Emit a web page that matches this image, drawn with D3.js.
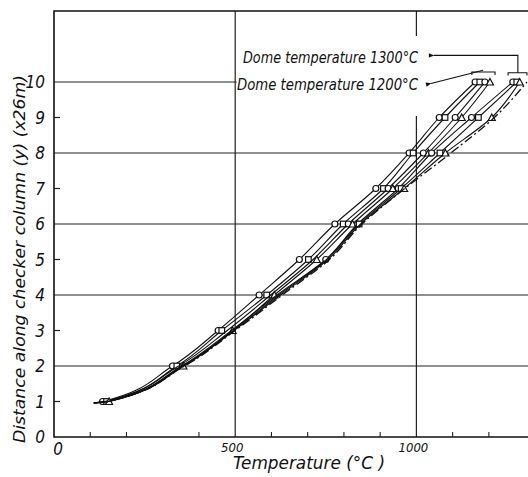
<!DOCTYPE html>
<html>
<head>
<meta charset="utf-8">
<script src="https://cdn.jsdelivr.net/npm/d3@7"></script>
<style>
  body { margin: 0; background: #fff; }
  text { font-family: "Liberation Sans Narrow", "DejaVu Sans Condensed", "Liberation Sans", sans-serif; font-style: italic; fill: #111; }
</style>
</head>
<body>
<svg id="chart"></svg>
<script>
// heights along the checker column (first entry = start of the curves)
let levels = [0.96, 1, 2, 3, 4, 5, 6, 7, 8, 9, 10]

// temperatures (°C) for each curve
let curveA = [110, 134, 327, 453, 566, 677, 775, 888, 980, 1063, 1162]
let curveB = [110, 145, 339, 463, 587, 702, 798, 909, 991, 1079, 1175]
let curveC = [110, 140, 344, 478, 598, 715, 812, 922, 1019, 1107, 1189]
let curveD = [110, 152, 357, 493, 608, 725, 824, 935, 1033, 1125, 1203]
let curveE = [110, 148, 352, 490, 615, 750, 838, 950, 1042, 1152, 1266]
let curveF = [110, 150, 355, 495, 620, 752, 842, 958, 1065, 1171, 1277]
let curveG = [110, 152, 358, 497, 625, 756, 846, 966, 1080, 1208, 1285]
let curveH = [110, 150, 360, 500, 630, 760, 850, 968, 1095, 1215, 1305]

let curves = [curveA, curveB, curveC, curveD, curveE, curveF, curveG, curveH]
let markerType = ["circle", "square", "circle", "triangle", "circle", "square", "triangle", "none"]
let markFrom = [1, 1, 6, 1, 5, 6, 7, 99]
let dashed = [false, false, false, false, false, false, false, true]

let xTicks = [0, 500, 1000]
let xMinor = [100, 200, 400, 600, 700, 800, 900, 1100, 1200]
let yTicks = [0, 1, 2, 3, 4, 5, 6, 7, 8, 9, 10]
let xGrid = [500, 1000]
let yGrid = [2, 4, 6, 8, 10]

let width = 528
let height = 477

let svg = d3.select("#chart")
    .attr("width", width)
    .attr("height", height)

let xScale = d3.scaleLinear().domain([0, 1500]).range([54, 54 + 1500 * 0.3624])
let yScale = d3.scaleLinear().domain([0, 12]).range([437, 11])

// grid
svg.selectAll(".vgrid")
    .data(xGrid)
    .enter()
    .append("line")
    .attr("x1", (d) => xScale(d))
    .attr("x2", (d) => xScale(d))
    .attr("y1", yScale(12))
    .attr("y2", yScale(0))
    .attr("stroke", "#222")
    .attr("stroke-width", 1.2)

svg.selectAll(".hgrid")
    .data(yGrid)
    .enter()
    .append("line")
    .attr("x1", xScale(0))
    .attr("x2", width)
    .attr("y1", (d) => yScale(d))
    .attr("y2", (d) => yScale(d))
    .attr("stroke", "#222")
    .attr("stroke-width", 1.2)

// blank area behind the annotations
svg.append("rect")
    .attr("x", xScale(500) + 1.5)
    .attr("y", 36)
    .attr("width", width)
    .attr("height", 80)
    .attr("fill", "#fff")

// frame
svg.append("path")
    .attr("d", `M${width},${yScale(12)}H${xScale(0)}V${yScale(0)}H${width}`)
    .attr("fill", "none")
    .attr("stroke", "#111")
    .attr("stroke-width", 1.6)

// minor ticks
svg.selectAll(".ytick")
    .data(yTicks.filter((d) => d % 2 === 1))
    .enter()
    .append("line")
    .attr("x1", xScale(0))
    .attr("x2", xScale(0) + 6)
    .attr("y1", (d) => yScale(d))
    .attr("y2", (d) => yScale(d))
    .attr("stroke", "#222")
    .attr("stroke-width", 1.2)

svg.selectAll(".xtick")
    .data(xMinor)
    .enter()
    .append("line")
    .attr("x1", (d) => xScale(d))
    .attr("x2", (d) => xScale(d))
    .attr("y1", yScale(0))
    .attr("y2", yScale(0) - 5)
    .attr("stroke", "#222")
    .attr("stroke-width", 1.1)

// tick labels
svg.selectAll(".ylab")
    .data(yTicks)
    .enter()
    .append("text")
    .attr("x", 45)
    .attr("y", (d) => yScale(d) + 6)
    .attr("text-anchor", "end")
    .attr("font-size", 17)
    .text((d) => d)

svg.selectAll(".xlab")
    .data(xTicks)
    .enter()
    .append("text")
    .attr("x", (d) => d === 0 ? xScale(0) + 4 : xScale(d) - 3)
    .attr("y", (d) => d === 0 ? 455 : 452)
    .attr("text-anchor", "middle")
    .attr("font-size", (d) => d === 0 ? 17 : 13)
    .text((d) => d)

// axis titles
svg.append("text")
    .attr("x", 233)
    .attr("y", 469)
    .attr("font-size", 17)
    .attr("textLength", 152)
    .attr("lengthAdjust", "spacingAndGlyphs")
    .text("Temperature  (°C )")

svg.append("text")
    .attr("transform", "translate(25,443) rotate(-90)")
    .attr("font-size", 16)
    .attr("textLength", 368)
    .attr("lengthAdjust", "spacingAndGlyphs")
    .text("Distance along checker column  (y) (x26m)")

// curves
let line = d3.line()
    .x((d) => xScale(d[0]))
    .y((d) => yScale(d[1]))
    .curve(d3.curveMonotoneY)

curves.forEach((temps, i) => {
    let pts = temps.map((t, j) => [t, levels[j]])
    svg.append("path")
        .attr("d", line(pts))
        .attr("fill", "none")
        .attr("stroke", "#111")
        .attr("stroke-width", dashed[i] ? 1.3 : 1.1)
        .attr("stroke-dasharray", dashed[i] ? "9,3,2,3" : null)

    let marks = pts.filter((p, j) => j >= markFrom[i])
    marks.forEach((p) => {
        let cx = xScale(p[0])
        let cy = yScale(p[1])
        if (markerType[i] === "circle") {
            svg.append("circle")
                .attr("cx", cx).attr("cy", cy).attr("r", 3)
                .attr("fill", "#fff").attr("stroke", "#111").attr("stroke-width", 1.2)
        } else if (markerType[i] === "square") {
            svg.append("rect")
                .attr("x", cx - 2.8).attr("y", cy - 2.8).attr("width", 5.6).attr("height", 5.6)
                .attr("fill", "#fff").attr("stroke", "#111").attr("stroke-width", 1.2)
        } else if (markerType[i] === "triangle") {
            svg.append("path")
                .attr("d", `M${cx},${cy - 3.5}L${cx + 3.5},${cy + 3}L${cx - 3.5},${cy + 3}Z`)
                .attr("fill", "#fff").attr("stroke", "#111").attr("stroke-width", 1.2)
        }
    })
})

// annotations
svg.append("defs").append("marker")
    .attr("id", "arrow")
    .attr("viewBox", "0 0 10 10")
    .attr("refX", 1).attr("refY", 5)
    .attr("markerWidth", 7).attr("markerHeight", 5)
    .attr("orient", "auto-start-reverse")
    .append("path")
    .attr("d", "M0,5L10,1L10,9Z")
    .attr("fill", "#111")

svg.append("text")
    .attr("x", 243).attr("y", 63)
    .attr("font-size", 15)
    .attr("textLength", 175)
    .attr("lengthAdjust", "spacingAndGlyphs")
    .text("Dome temperature 1300°C")

svg.append("text")
    .attr("x", 237).attr("y", 90)
    .attr("font-size", 15)
    .attr("textLength", 181)
    .attr("lengthAdjust", "spacingAndGlyphs")
    .text("Dome temperature 1200°C")

let bx = (t) => xScale(t)
let by = (v) => yScale(v)

// bracket + arrow for 1300 group
svg.append("path")
    .attr("d", `M${bx(1253)},${by(10.18)}V${by(10.26)}H${bx(1305)}V${by(10.18)}`)
    .attr("fill", "none").attr("stroke", "#111").attr("stroke-width", 1.1)
svg.append("path")
    .attr("d", `M${bx(1280)},${by(10.26)}V${by(10.75)}H${bx(1048)}`)
    .attr("fill", "none").attr("stroke", "#111").attr("stroke-width", 1.1)
    .attr("marker-end", "url(#arrow)")

// bracket + arrow for 1200 group
svg.append("path")
    .attr("d", `M${bx(1153)},${by(10.2)}V${by(10.28)}H${bx(1217)}V${by(10.2)}`)
    .attr("fill", "none").attr("stroke", "#111").attr("stroke-width", 1.1)
svg.append("path")
    .attr("d", `M${bx(1184)},${by(10.33)}L${bx(1040)},${by(9.96)}`)
    .attr("fill", "none").attr("stroke", "#111").attr("stroke-width", 1.1)
    .attr("marker-end", "url(#arrow)")
</script>
</body>
</html>
